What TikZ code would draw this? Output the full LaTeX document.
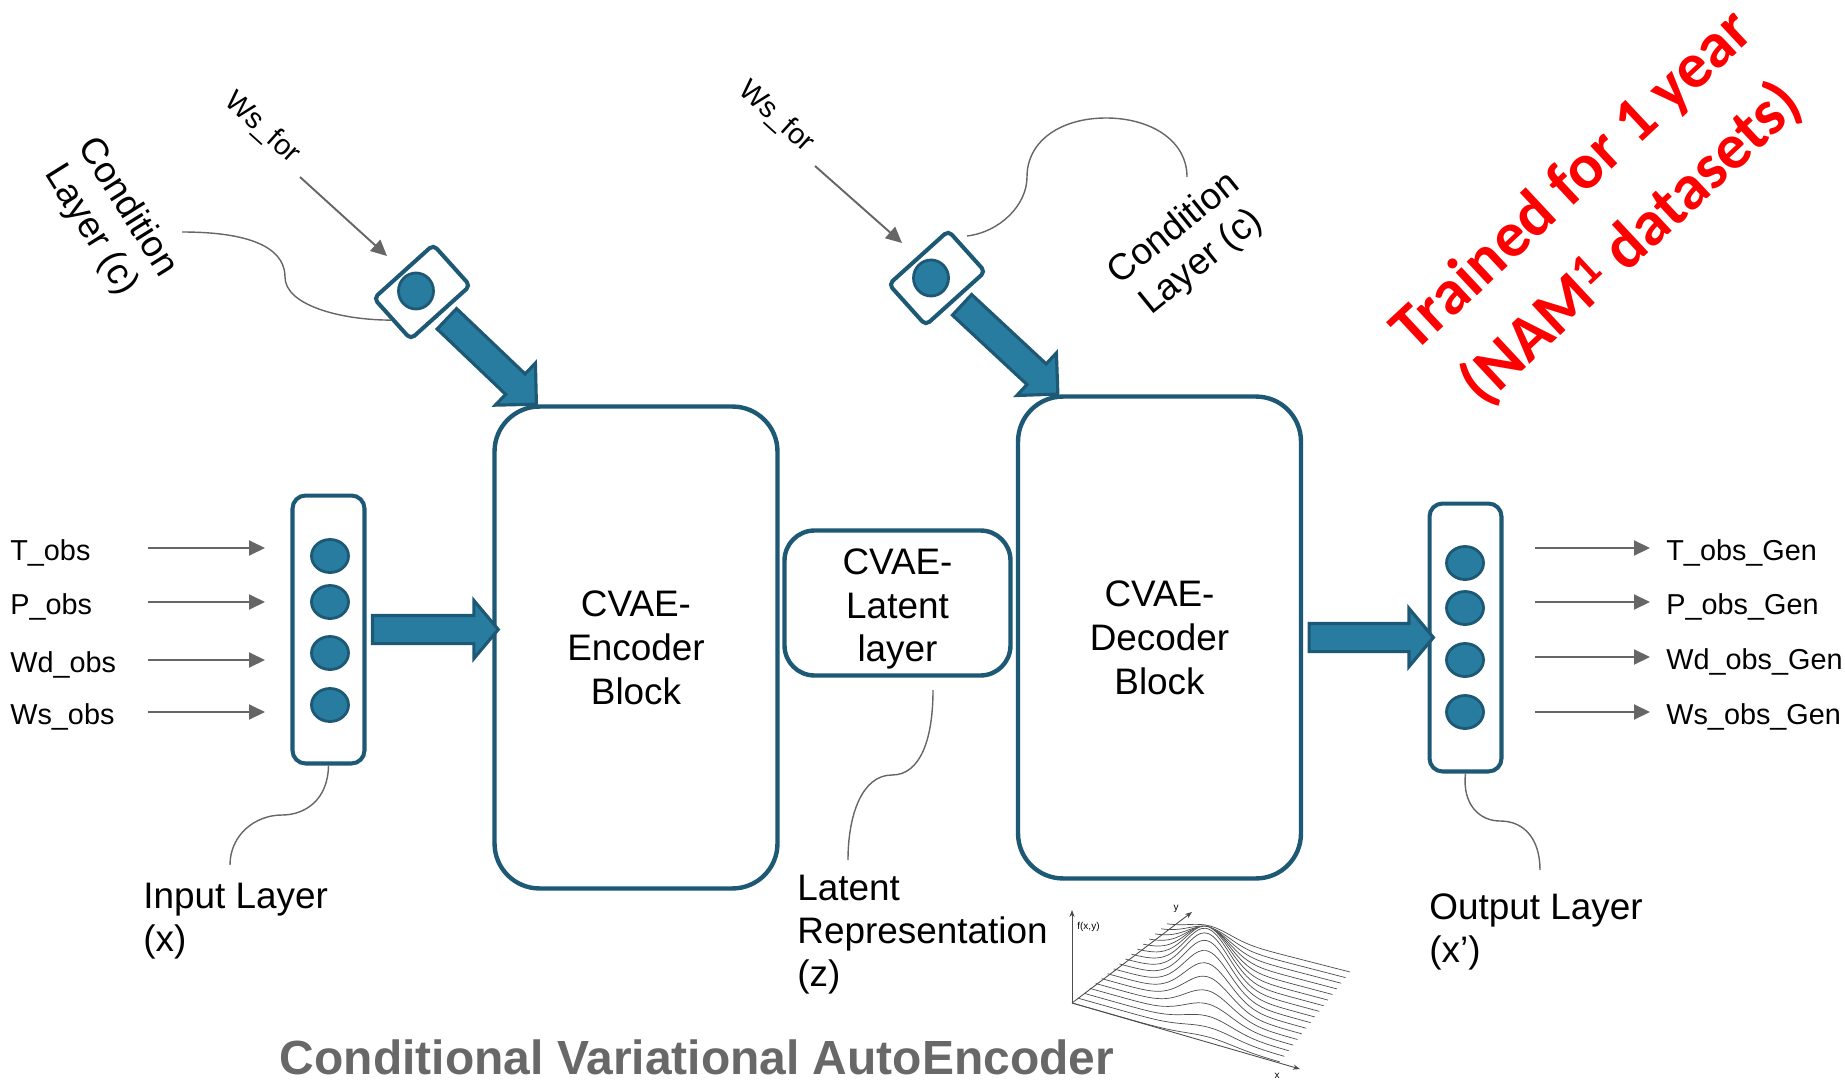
\documentclass[tikz,border=0pt]{standalone}
\usepackage{fontspec}
\setmainfont{Liberation Sans}
\newfontfamily\notefont{Carlito}
\usetikzlibrary{arrows.meta, positioning, calc, shapes.geometric, shapes.arrows}

\definecolor{cvaeblue}{RGB}{40,124,160}
\definecolor{cvaedark}{RGB}{29,89,117}
\definecolor{linkgray}{RGB}{102,102,102}
\definecolor{titlegray}{RGB}{104,104,104}
\definecolor{notered}{RGB}{255,0,0}

\tikzset{
  cvaeblock/.style={draw=cvaedark, line width=2.5pt, inner sep=0pt, align=center,
    font=\fontsize{21}{25}\selectfont},
  layerbox/.style={draw=cvaedark, fill=white, line width=2.3pt, rounded corners=0.26cm,
    minimum width=1.44cm, minimum height=5.36cm},
  neuron/.style={ellipse, draw=cvaedark, fill=cvaeblue, line width=1.6pt, inner sep=0pt,
    minimum width=0.74cm, minimum height=0.66cm},
  condbox/.style={draw=cvaedark, fill=white, line width=2.3pt, rounded corners=0.1cm,
    minimum width=1.6cm, minimum height=1.1cm, rotate=42},
  fatarrow/.style={single arrow, draw=cvaedark, fill=cvaeblue, line width=1.8pt,
    inner xsep=0pt, inner ysep=0.25cm, single arrow head extend=0.3cm,
    single arrow tip angle=90},
  feedarrow/.style={draw=linkgray, line width=1.1pt, -{Triangle[length=0.32cm, width=0.3cm]}},
  leader/.style={draw=linkgray, line width=0.8pt},
  iolabel/.style={font=\fontsize{16.4}{20}\selectfont, inner sep=0pt},
  layerlabel/.style={font=\fontsize{21}{24.5}\selectfont, align=left, inner sep=0pt},
}

\begin{document}
\begin{tikzpicture}[x=0.02cm, y=-0.02cm,
  declare function={gpart(\st)=exp(0-(\st)*(\st));
    bump(\su,\sv)=48*gpart((\su+0.43*\sv-0.663)/0.16)*gpart((\sv-0.55)/0.36);}]
  \useasboundingbox (0,0) rectangle (1845,1081);

  % encoder / latent / decoder
  \node[cvaeblock, rounded corners=0.9cm, minimum width=5.66cm, minimum height=9.64cm]
    (enc) at (636,647.5) {CVAE-\\Encoder\\Block};
  \node[cvaeblock, rounded corners=0.6cm, minimum width=4.52cm, minimum height=2.9cm]
    (lat) at (897.5,603) {};
  \node[font=\fontsize{21}{25}\selectfont, align=center, inner sep=0pt]
    (latName) at ($(lat.center)+(0,6)$) {CVAE-\\Latent\\layer};
  \node[cvaeblock, rounded corners=0.9cm, minimum width=5.66cm, minimum height=9.64cm]
    (dec) at (1159.5,637.5) {CVAE-\\Decoder\\Block};

  % input and output layers
  \node[layerbox] (inl) at (328.5,629.5) {};
  \node[layerbox] (outl) at (1465.5,637.5) {};
  \foreach \y [count=\i] in {556,602,653,705}
    \node[neuron] (x\i) at (330,\y) {};
  \foreach \y [count=\i] in {563,608,660,712}
    \node[neuron] (y\i) at (1465,\y) {};

  % observed variables
  \foreach \lab/\y [count=\i] in {T\_obs/548,P\_obs/602,Wd\_obs/660,Ws\_obs/712}{
    \node[iolabel, anchor=base west] (obs\i) at (10,\y+12) {\lab};
    \coordinate (obsA\i) at (148,\y);
    \coordinate (obsB\i) at (265,\y);
    \draw[feedarrow] (obsA\i) -- (obsB\i);
  }

  % generated variables
  \foreach \lab/\y [count=\i] in {T\_obs\_Gen/548,P\_obs\_Gen/602,Wd\_obs\_Gen/657,Ws\_obs\_Gen/712}{
    \coordinate (genA\i) at (1535,\y);
    \coordinate (genB\i) at (1650,\y);
    \draw[feedarrow] (genA\i) -- (genB\i);
    \node[iolabel, anchor=base west] (gen\i) at (1666,\y+12) {\lab};
  }

  % condition layers
  \node[condbox] (condL) at (422,292) {};
  \node[neuron, minimum width=0.7cm, minimum height=0.72cm] (cL) at (416,291) {};
  \node[condbox] (condR) at (937,278) {};
  \node[neuron, minimum width=0.7cm, minimum height=0.72cm] (cR) at (931,278) {};

  \node[iolabel, rotate=-42] (wsL) at (262,128) {Ws\_for};
  \node[iolabel, rotate=-42] (wsR) at (776,117) {Ws\_for};
  \coordinate (wsLa) at (300,177);
  \coordinate (wsLb) at (387,256);
  \coordinate (wsRa) at (815,166);
  \coordinate (wsRb) at (902,243);
  \draw[feedarrow] (wsLa) -- (wsLb);
  \draw[feedarrow] (wsRa) -- (wsRb);

  \node[layerlabel, align=center, rotate=-58] (condLtxt) at (109,219) {Condition\\Layer (c)};
  \node[layerlabel, align=center, rotate=39] (condRtxt) at (1188,246) {Condition\\Layer (c)};

  % fat arrows
  \coordinate (encIn) at ($(enc.north west)+(39,-5)$);
  \coordinate (decIn) at ($(dec.north west)+(37,-5)$);
  \coordinate (inOut) at (inl.east -| enc.west);
  \path let \p1=($(encIn)-(condL.south)$) in
    node[fatarrow, minimum height={veclen(\x1,\y1)}, rotate={atan2(\y1,\x1)}]
    (fatL) at ($(condL.south)!0.5!(encIn)$) {};
  \path let \p1=($(decIn)-(condR.south)$) in
    node[fatarrow, minimum height={veclen(\x1,\y1)}, rotate={atan2(\y1,\x1)}]
    (fatR) at ($(condR.south)!0.5!(decIn)$) {};
  \path let \p1=($(inOut)-(inl.east)$) in
    node[fatarrow, single arrow tip angle=100, minimum height={veclen(\x1,\y1)}]
    (fatIn) at ($(inl.east)!0.5!(inOut)$) {};
  \path let \p1=($(outl.west)-(dec.east)$) in
    node[fatarrow, single arrow tip angle=100, minimum height={veclen(\x1,\y1)}]
    (fatOut) at ($(dec.east)!0.5!(outl.west)$) {};

  % leader curves
  \coordinate (cLa) at (182,232);
  \draw[leader] (cLa) .. controls (265,232) and (285,255) .. (285,277)
    .. controls (285,305) and (340,320) .. (condL.west);
  \coordinate (cRa) at (967,236);
  \coordinate (cRb) at (1187,177);
  \draw[leader] (cRa) .. controls (1000,232) and (1027,205) .. (1027,177)
    .. controls (1027,140) and (1062,118) .. (1106,118)
    .. controls (1150,118) and (1187,140) .. (cRb);
  \coordinate (inLab) at (230,865);
  \draw[leader] (inl.south) .. controls (328,800) and (305,815) .. (282,815)
    .. controls (255,815) and (230,835) .. (inLab);
  \coordinate (latA) at (933,690);
  \coordinate (latB) at (848,860);
  \draw[leader] (latA) .. controls (933,740) and (920,775) .. (892,775)
    .. controls (862,775) and (848,815) .. (latB);
  \coordinate (outLab) at (1540,870);
  \draw[leader] (outl.south) .. controls (1462,805) and (1480,821) .. (1500,821)
    .. controls (1525,821) and (1540,840) .. (outLab);

  % layer names
  \node[layerlabel, anchor=north west] (inText) at (143,883) {Input Layer\\(x)};
  \node[layerlabel, anchor=north west] (latText) at (797,875) {Latent\\Representation\\(z)};
  \node[layerlabel, anchor=north west] (outText) at (1429,893) {Output Layer\\(x’)};

  % density sketch
  \foreach \k in {0,...,16}{
    \pgfmathsetmacro{\vpos}{1-\k/16}
    \fill[white] plot[domain=0:1, samples=50, smooth]
      ({1072+(208-25*\vpos)*\x+95*\vpos}, {1003+(59-12*\vpos)*\x-78*\vpos-bump(\x,\vpos)}) -- cycle;
    \draw[black!70, line width=0.4pt] plot[domain=0:1, samples=50, smooth]
      ({1072+(208-25*\vpos)*\x+95*\vpos}, {1003+(59-12*\vpos)*\x-78*\vpos-bump(\x,\vpos)});
  }
  \coordinate (fO) at (1072,1003);
  \draw[black!70, line width=0.5pt, -{Stealth[length=4pt,width=3pt]}] (fO) -- (1072,910);
  \draw[black!70, line width=0.5pt, -{Stealth[length=4pt,width=3pt]}] (fO) -- (1192,912);
  \draw[black!70, line width=0.5pt, -{Stealth[length=4pt,width=3pt]}] (fO) -- (1300,1069);
  \node[font=\fontsize{5.7}{6}\selectfont, anchor=west, inner sep=0pt] (fxy) at (1077,927) {f(x,y)};
  \node[font=\fontsize{5.7}{6}\selectfont, inner sep=0pt] (yax) at (1176,909) {y};
  \node[font=\fontsize{5.7}{6}\selectfont, inner sep=0pt] (xax) at (1277,1076) {x};

  % title and note
  \node[font=\fontsize{27.3}{30}\selectfont\bfseries, text=titlegray, anchor=base]
    (title) at (697,1074) {Conditional Variational AutoEncoder};
  \node[font=\notefont\bfseries\fontsize{36.5}{49}\selectfont, text=notered, align=center,
    rotate=43] (note) at (1603,213) {Trained for 1 year\\(NAM\textsuperscript{1} datasets)};
\end{tikzpicture}
\end{document}
